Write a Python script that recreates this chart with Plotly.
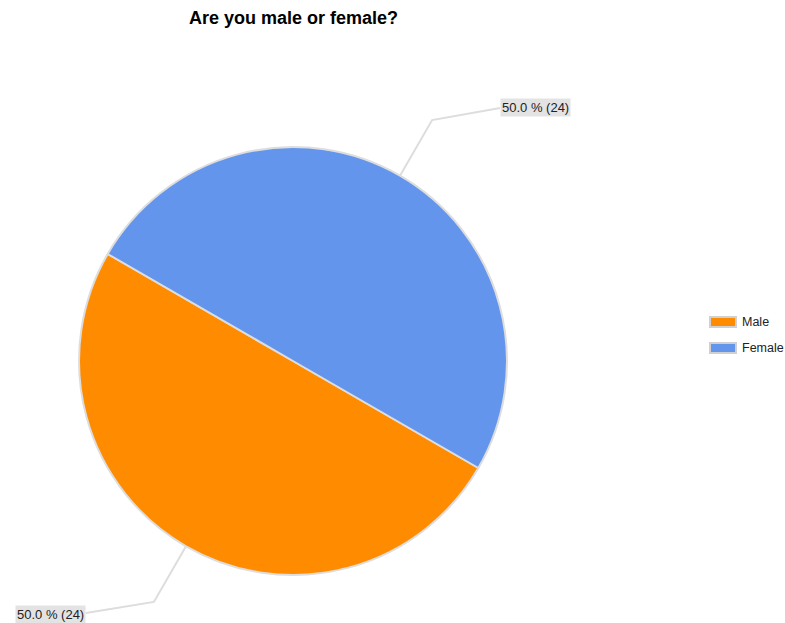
import math
import plotly.graph_objects as go

# Survey answers
labels = ["Male", "Female"]
counts = [24, 24]
colors = ["#FF8C00", "#6495ED"]

W, H = 785, 623
CX, CY, R = 293, 361, 214          # pie centre and radius in pixels
ROTATION = 120                      # first slice starts at 4 o'clock, going clockwise

def px_to_paper(x, y):
    return x / W, 1 - y / H

x0, y0 = px_to_paper(CX - R, CY - R)
x1, y1 = px_to_paper(CX + R, CY + R)

fig = go.Figure(go.Pie(
    labels=labels,
    values=counts,
    marker=dict(colors=colors, line=dict(color="#DDDDDD", width=2)),
    textinfo="none",
    hoverinfo="label+value+percent",
    sort=False,
    direction="clockwise",
    rotation=ROTATION,
    showlegend=False,
    domain=dict(x=[x0, x1], y=[y1, y0]),
))

shapes = []
annotations = []

# Outside labels with elbowed leader lines, placed at each slice's mid-angle
total = sum(counts)
start = 90 - ROTATION  # math angle (deg) where first slice begins
for lab, val in zip(labels, counts):
    sweep = 360 * val / total
    mid = math.radians(start - sweep / 2)
    start -= sweep
    ex, ey = CX + R * math.cos(mid), CY - R * math.sin(mid)
    kx, ky = CX + 1.3 * R * math.cos(mid), CY - 1.3 * R * math.sin(mid)
    side = 1 if math.cos(mid) >= 0 else -1
    tx, ty = kx + side * 68, ky + (-12 if side > 0 else 11)
    pts = [px_to_paper(ex, ey), px_to_paper(kx, ky), px_to_paper(tx, ty)]
    path = "M {} {} L {} {} L {} {}".format(*[c for p in pts for c in p])
    shapes.append(dict(type="path", xref="paper", yref="paper", path=path,
                       line=dict(color="#DDDDDD", width=2)))
    ax, ay = px_to_paper(tx, ty + (-1 if side > 0 else 2))
    annotations.append(dict(
        x=ax, y=ay, xref="paper", yref="paper", showarrow=False,
        xanchor="left" if side > 0 else "right", yanchor="middle",
        text=f"{100 * val / total:.1f} % ({val})",
        font=dict(family="Liberation Sans, Arial", size=13, color="#222222"),
        bgcolor="#E3E3E3", borderpad=1,
    ))

# Legend: swatches with labels
for i, (lab, col) in enumerate(zip(labels, colors)):
    ly = 322 + 26 * i
    sx0, sy0 = px_to_paper(710, ly - 5)
    sx1, sy1 = px_to_paper(736, ly + 5)
    shapes.append(dict(type="rect", xref="paper", yref="paper",
                       x0=sx0, x1=sx1, y0=sy1, y1=sy0,
                       fillcolor=col, line=dict(color="#D0D0D0", width=2)))
    lx, lyp = px_to_paper(740, ly)
    annotations.append(dict(
        x=lx, y=lyp, xref="paper", yref="paper", showarrow=False,
        xanchor="left", yanchor="middle", text=lab,
        font=dict(family="Liberation Sans, Arial", size=12.5, color="#222222"),
    ))

tx, ty = px_to_paper(CX, 18)
annotations.append(dict(
    x=tx, y=ty, xref="paper", yref="paper", showarrow=False,
    xanchor="center", yanchor="middle", text="<b>Are you male or female?</b>",
    font=dict(family="Liberation Sans, Arial", size=18, color="#000000"),
))

fig.update_layout(
    width=W, height=H,
    margin=dict(l=0, r=0, t=0, b=0),
    paper_bgcolor="white", plot_bgcolor="white",
    shapes=shapes, annotations=annotations,
    showlegend=False,
)

fig.write_html("out.html")
